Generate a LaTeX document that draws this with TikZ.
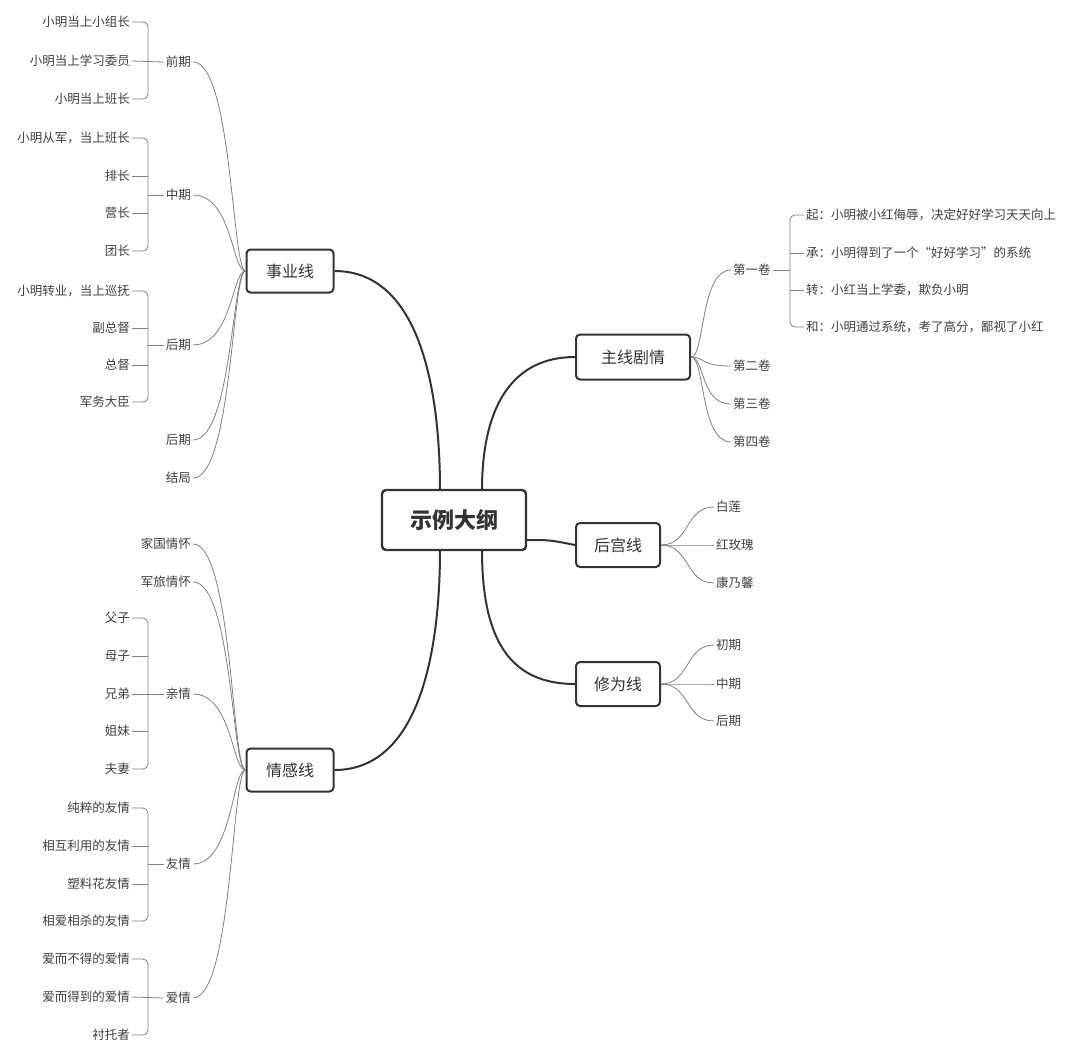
\documentclass[tikz,border=0pt]{standalone}
\usepackage{fontspec}
\setmainfont{Noto Sans CJK SC}
\begin{document}
\begin{tikzpicture}[x=1pt,y=-1pt,
  leaf/.style={inner sep=2pt,text=black!75,font=\fontsize{12.5}{14}\selectfont},
  box/.style={draw=black!80,line width=2pt,rounded corners=4pt,inner xsep=0pt,inner ysep=0pt,text=black!80,font=\fontsize{16}{18}\selectfont},
  main/.style={draw=black!80,line width=2pt},
  thin/.style={draw=black!50,line width=0.8pt},
  br/.style={thin,rounded corners=5pt}]
\useasboundingbox[fill=white] (0,0) rectangle (1080,1060);
% center
\node[box,line width=2.4pt,minimum width=144pt,minimum height=60pt,font=\fontsize{22}{24}\selectfont\bfseries] (c) at (454,520) {示例大纲};
\node[box,minimum width=87pt,minimum height=43pt] (sy) at (290,271) {事业线};
\node[box,minimum width=87pt,minimum height=43pt] (qg) at (290,770) {情感线};
\node[box,minimum width=114pt,minimum height=45pt] (zx) at (633,357) {主线剧情};
\node[box,minimum width=84pt,minimum height=44pt] (hg) at (618,545) {后宫线};
\node[box,minimum width=84pt,minimum height=44pt] (xw) at (618,684) {修为线};
\coordinate (cT1) at (440,490);
\coordinate (cB1) at (440,550);
\coordinate (cT2) at (482,490);
\coordinate (cB2) at (482,550);
\draw[main] (sy.east) .. controls (420,271) and (440,390) .. (cT1);
\draw[main] (qg.east) .. controls (420,770) and (440,650) .. (cB1);
\draw[main] (cT2) .. controls (482,410) and (510,357) .. (zx.west);
\draw[main] (c.east|-hg.west) ++(0,-5) .. controls (550,540) .. (hg.west);
\draw[main] (cB2) .. controls (482,640) and (510,684) .. (xw.west);

% ---- left groups under 事业线
\foreach \n/\t/\y in {a/前期/62,b/中期/195,d/后期/345,e/后期/440,f/结局/478}
  {\node[leaf,anchor=east] (sy\n) at (193,\y) {\t};
   \draw[thin] (sy.west) .. controls (232,271) and (232,\y) .. (sy\n.east);}
\foreach \n/\t/\y in {a/小明当上小组长/22,b/小明当上学习委员/61,c/小明当上班长/99}
  \node[leaf,anchor=east] (qa\n) at (132,\y) {\t};
\draw[br] (qaa.east) -| (148,99) -- (qac.east);
\draw[thin] (qab.east) -- (sya.west);
\foreach \n/\t/\y in {a/小明从军，当上班长/138,b/排长/176,c/营长/213,d/团长/251}
  \node[leaf,anchor=east] (zq\n) at (132,\y) {\t};
\draw[br] (zqa.east) -| (148,251) -- (zqd.east);
\draw[thin] (zqb.east) -- (148,176) (zqc.east) -- (148,213) (148,195) -- (syb.west);
\foreach \n/\t/\y in {a/小明转业，当上巡抚/291,b/副总督/328,c/总督/365,d/军务大臣/402}
  \node[leaf,anchor=east] (hq\n) at (132,\y) {\t};
\draw[br] (hqa.east) -| (148,402) -- (hqd.east);
\draw[thin] (hqb.east) -- (148,328) (hqc.east) -- (148,365) (148,345) -- (syd.west);

% ---- 情感线
\foreach \n/\t/\y in {a/家国情怀/544,b/军旅情怀/582,c/亲情/694,d/友情/864,e/爱情/998}
  {\node[leaf,anchor=east] (qg\n) at (193,\y) {\t};
   \draw[thin] (qg.west) .. controls (232,770) and (232,\y) .. (qg\n.east);}
\foreach \n/\t/\y in {a/父子/618,b/母子/656,c/兄弟/694,d/姐妹/731,e/夫妻/769}
  \node[leaf,anchor=east] (qq\n) at (132,\y) {\t};
\draw[br] (qqa.east) -| (148,769) -- (qqe.east);
\draw[thin] (qqb.east) -- (148,656) (qqd.east) -- (148,731) (qqc.east) -- (qgc.west);
\foreach \n/\t/\y in {a/纯粹的友情/808,b/相互利用的友情/846,c/塑料花友情/884,d/相爱相杀的友情/921}
  \node[leaf,anchor=east] (yq\n) at (132,\y) {\t};
\draw[br] (yqa.east) -| (148,921) -- (yqd.east);
\draw[thin] (yqb.east) -- (148,846) (yqc.east) -- (148,884) (148,864) -- (qgd.west);
\foreach \n/\t/\y in {a/爱而不得的爱情/959,b/爱而得到的爱情/997,c/衬托者/1035}
  \node[leaf,anchor=east] (aq\n) at (132,\y) {\t};
\draw[br] (aqa.east) -| (148,1035) -- (aqc.east);
\draw[thin] (aqb.east) -- (qge.west);

% ---- 主线剧情
\foreach \n/\t/\y in {a/第一卷/270,b/第二卷/366,c/第三卷/404,d/第四卷/442}
  {\node[leaf,anchor=west] (zx\n) at (731,\y) {\t};
   \draw[thin] (zx.east) .. controls (705,357) and (700,\y) .. (zx\n.west);}
\foreach \n/\t/\y in {a/起：小明被小红侮辱，决定好好学习天天向上/215,b/承：小明得到了一个“好好学习”的系统/253,c/转：小红当上学委，欺负小明/290,d/和：小明通过系统，考了高分，鄙视了小红/327}
  \node[leaf,anchor=west] (j\n) at (804,\y) {\t};
\draw[br] (ja.west) -| (790,327) -- (jd.west);
\draw[thin] (jb.west) -- (790,253) (jc.west) -- (790,290) (790,270) -- (zxa.east);

% ---- 后宫线
\foreach \n/\t/\y in {a/白莲/507,b/红玫瑰/545,c/康乃馨/583}
  {\node[leaf,anchor=west] (hg\n) at (714,\y) {\t};
   \draw[thin] (hg.east) .. controls (690,545) and (685,\y) .. (hg\n.west);}
% ---- 修为线
\foreach \n/\t/\y in {a/初期/645,b/中期/684,c/后期/721}
  {\node[leaf,anchor=west] (xw\n) at (714,\y) {\t};
   \draw[thin] (xw.east) .. controls (690,684) and (685,\y) .. (xw\n.west);}
\end{tikzpicture}
\end{document}
